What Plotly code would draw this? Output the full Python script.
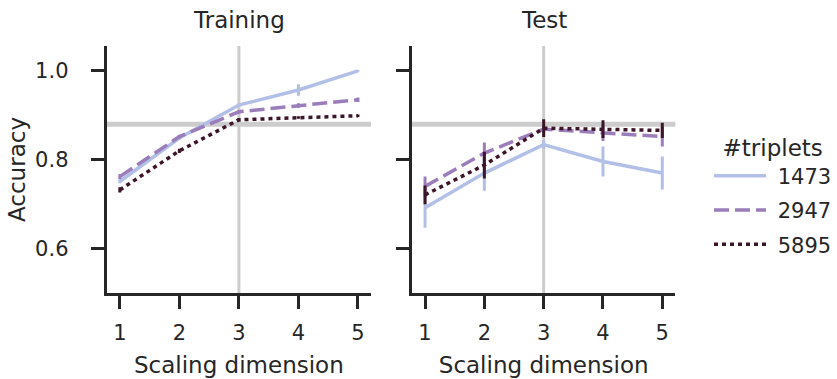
import plotly.graph_objects as go
from plotly.subplots import make_subplots

dims = [1, 2, 3, 4, 5]
series_names = ["1473", "2947", "5895"]

train_acc = {
    "1473": [0.751, 0.849, 0.923, 0.957, 1.000],
    "2947": [0.762, 0.852, 0.908, 0.922, 0.935],
    "5895": [0.732, 0.820, 0.890, 0.895, 0.899],
}
train_err = {
    "1473": [0.004, 0.004, 0.004, 0.013, 0.002],
    "2947": [0.006, 0.004, 0.004, 0.005, 0.005],
    "5895": [0.006, 0.005, 0.004, 0.003, 0.003],
}
test_acc = {
    "1473": [0.692, 0.770, 0.834, 0.796, 0.770],
    "2947": [0.740, 0.815, 0.869, 0.861, 0.852],
    "5895": [0.721, 0.788, 0.871, 0.869, 0.866],
}
test_err = {
    "1473": [0.045, 0.040, 0.010, 0.034, 0.037],
    "2947": [0.022, 0.024, 0.008, 0.019, 0.022],
    "5895": [0.021, 0.030, 0.020, 0.020, 0.017],
}

colors = {"1473": "#b2c0e7", "2947": "#9b7dbb", "5895": "#3c1628"}
dashes = {"1473": "solid", "2947": "15px,6px", "5895": "4px,4px"}

ref_acc = 0.88
ref_dim = 3

INK = "#262626"
FONT = "DejaVu Sans"
LABEL_SIZE = 23
TICK_SIZE = 21

domains = [[0.1278, 0.4444], [0.4934, 0.8088]]

fig = make_subplots(rows=1, cols=2, shared_yaxes=True,
                    subplot_titles=["Training", "Test"])

for col, (acc, err) in enumerate([(train_acc, train_err), (test_acc, test_err)], start=1):
    sfx = "" if col == 1 else str(col)
    for name in series_names:
        fig.add_trace(go.Scatter(
            x=dims, y=acc[name], mode="lines", name="\u2008" + name,
            legendgroup=name, showlegend=(col == 1),
            line=dict(color=colors[name], width=3.5, dash=dashes[name]),
            error_y=dict(type="data", array=err[name], color=colors[name],
                         thickness=3, width=0),
        ), row=1, col=col)
    # reference lines
    fig.add_shape(type="line", xref=f"x{sfx} domain", yref=f"y{sfx}",
                  x0=0, x1=1, y0=ref_acc, y1=ref_acc,
                  line=dict(color="#cccccc", width=5), layer="below")
    fig.add_shape(type="line", xref=f"x{sfx}", yref=f"y{sfx} domain",
                  x0=ref_dim, x1=ref_dim, y0=0, y1=1,
                  line=dict(color="#cccccc", width=3), layer="below")

axis_common = dict(showline=True, linecolor=INK, linewidth=3, showgrid=False,
                   zeroline=False, ticks="outside", ticklen=13, tickwidth=3,
                   tickcolor=INK, tickfont=dict(size=TICK_SIZE, color=INK, family=FONT))

for col, dom in zip([1, 2], domains):
    fig.update_xaxes(domain=dom, range=[0.78, 5.22], tickvals=dims,
                     ticklabelstandoff=6,
                     title=dict(text="Scaling dimension",
                                font=dict(size=LABEL_SIZE, color=INK, family=FONT),
                                standoff=13),
                     row=1, col=col, **axis_common)
    fig.update_yaxes(domain=[0.2269, 0.8786], range=[0.5, 1.056],
                     tickvals=[0.6, 0.8, 1.0], ticklabelstandoff=18,
                     row=1, col=col, **axis_common)

fig.update_yaxes(tickformat=".1f",
                 title=dict(text="Accuracy", font=dict(size=LABEL_SIZE, color=INK, family=FONT),
                            standoff=4),
                 row=1, col=1)
fig.update_yaxes(showticklabels=False, row=1, col=2)

for ann, dom in zip(fig.layout.annotations, domains):
    ann.font = dict(size=LABEL_SIZE, color=INK, family=FONT)
    ann.x = (dom[0] + dom[1]) / 2
    ann.y = 0.947
    ann.yanchor = "middle"

fig.update_layout(
    width=837, height=379,
    margin=dict(l=0, r=0, t=0, b=0),
    paper_bgcolor="white", plot_bgcolor="white",
    font=dict(family=FONT, color=INK),
    legend=dict(
        title=dict(text="\u2002#triplets", font=dict(size=LABEL_SIZE, color=INK, family=FONT)),
        font=dict(size=TICK_SIZE, color=INK, family=FONT),
        x=0.8495, y=0.485, xanchor="left", yanchor="middle",
        bgcolor="rgba(0,0,0,0)", itemwidth=52,
        traceorder="grouped", tracegroupgap=4,
    ),
)

fig.write_html("out.html")
